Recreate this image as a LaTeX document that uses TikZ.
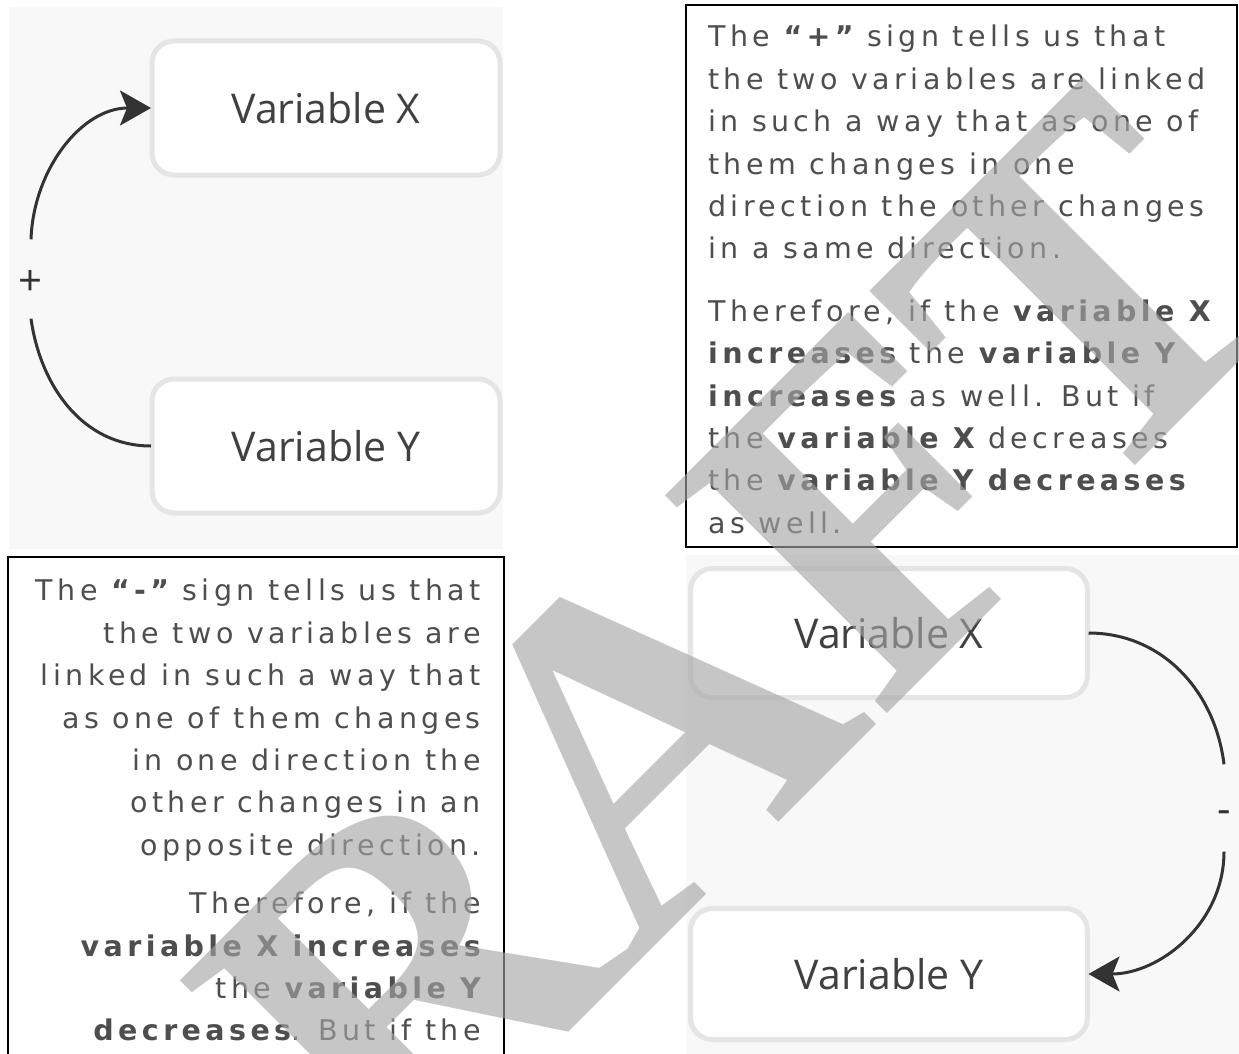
\documentclass[tikz,border=0pt]{standalone}
\usepackage{fontspec}
\newfontfamily\notefont{DejaVu Sans}[LetterSpace=15.5]
\newfontfamily\varfont{Open Sans}
\newfontfamily\draftfont{Liberation Serif}
\definecolor{panelgray}{RGB}{248,248,248}
\definecolor{boxgray}{RGB}{229,229,229}
\definecolor{inkgray}{RGB}{78,78,78}
\definecolor{varink}{RGB}{64,64,64}
\definecolor{arrowink}{RGB}{51,51,51}
\definecolor{wmgray}{RGB}{165,165,165}
\usetikzlibrary{
  arrows.meta,     % stealth heads of the links
  positioning      % relative placement
}
\tikzset{
  panel/.style = {rectangle, fill=panelgray, draw=none, outer sep=0, inner sep=0},
  notebox/.style = {rectangle, draw=black, line width=2pt, fill=white,
    outer sep=0, inner sep=0},
  notetext/.style = {inner sep=0, text=inkgray,
    font=\notefont\fontsize{28.5}{42.4}\selectfont},
  varbox/.style = {rectangle, rounded corners=22pt, draw=boxgray,
    line width=5pt, fill=white, inner sep=0, outer sep=1pt, text=varink,
    font=\varfont\fontsize{41}{49}\selectfont},
  sign/.style = {inner sep=0, text=arrowink,
    font=\varfont\fontsize{42}{42}\selectfont},
  link/.style = {draw=arrowink, line width=3pt},
  linkarrow/.style = {link, -{Stealth[length=31pt, width=35pt, inset=7pt]}},
  draft/.style = {inner sep=0, text=wmgray, text opacity=0.63,
    font=\draftfont\bfseries\fontsize{475}{475}\selectfont}
}

\begin{document}
\begin{tikzpicture}[x=1pt, y=-1pt]
  \useasboundingbox (0,0) rectangle (1239,1054);

  %% positive link
  \node[panel, minimum width=494, minimum height=542, anchor=north west] (panelA) at (9,7) {};
  \node[varbox, minimum width=348, minimum height=134] (aX) at (326,108) {Variable X};
  \node[varbox, minimum width=348, minimum height=134] (aY) at (326,446) {Variable Y};
  \node[sign, minimum height=79, text height=32pt, text depth=0pt] (plus) at (31,279) {+};

  \draw[link] (aY) to[out=180, in=-82] (plus.south);
  \draw[linkarrow] (plus.north) to[out=88, in=180] (aX);

  \node[notebox, minimum width=551, minimum height=542, anchor=north west] (plusbox) at (686,5) {};
  \node[notetext, anchor=north west, align=left] (plustext) at (708,25)
    {The {\bfseries “+”} sign tells us that\\
     the two variables are linked\\
     in such a way that as one of\\
     them changes in one\\
     direction the other changes\\
     in a same direction.\\[20pt]
     Therefore, if the {\bfseries variable X}\\
     {\bfseries increases} the {\bfseries variable Y}\\
     {\bfseries increases} as well. But if\\
     the {\bfseries variable X} decreases\\
     the {\bfseries variable Y decreases}\\
     as well.};

  %% negative link
  \node[notebox, minimum width=496, minimum height=520, anchor=north west] (minusbox) at (8,557) {};
  \node[notetext, anchor=north east, align=right] (minustext) at (481,579)
    {The {\bfseries “-”} sign tells us that\\
     the two variables are\\
     linked in such a way that\\
     as one of them changes\\
     in one direction the\\
     other changes in an\\
     opposite direction.\\[16pt]
     Therefore, if the\\
     {\bfseries variable X increases}\\
     the {\bfseries variable Y}\\
     {\bfseries decreases}. But if the};

  \node[panel, minimum width=553, minimum height=499, anchor=north west] (panelB) at (686,555) {};
  \node[varbox, minimum width=397, minimum height=129] (bX) at (889,633) {Variable X};
  \node[varbox, minimum width=397, minimum height=131] (bY) at (889,974) {Variable Y};
  \node[sign, minimum height=87, text height=30pt, text depth=0pt] (minus) at (1224,808) {-};

  \draw[link] (bX) to[out=0, in=97] (minus.north);
  \draw[linkarrow] (minus.south) to[out=-90, in=0] (bY);

  %% watermark
  \node[draft, rotate=45, anchor=base] (stamp) at (730,871) {DRAFT};

\end{tikzpicture}
\end{document}
